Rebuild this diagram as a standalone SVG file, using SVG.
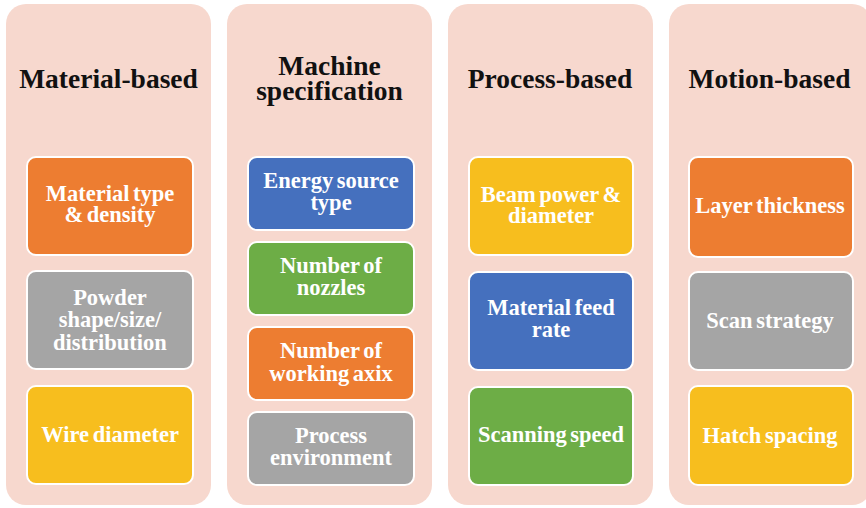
<svg xmlns="http://www.w3.org/2000/svg" width="866" height="508" viewBox="0 0 866 508">
  <style>
    .panel { fill: #F7D8CE; }
    .head { font-family: "Liberation Serif", "Times New Roman", serif; font-weight: bold; font-size: 27.5px; fill: #111111; text-anchor: middle; }
    .box { stroke: #FFFFFF; stroke-width: 2; }
    .lbl { font-family: "Liberation Serif", "Times New Roman", serif; font-weight: bold; font-size: 22.5px; fill: #FFFFFF; text-anchor: middle; word-spacing: -2px; }
    .orange { fill: #ED7D31; }
    .gray { fill: #A5A5A5; }
    .yellow { fill: #F7BE1E; }
    .blue { fill: #4570BE; }
    .green { fill: #6DAD46; }
  </style>
  <rect width="866" height="508" fill="#FFFFFF"/>

  <!-- Column 1: material-based -->
  <g id="col-material">
    <rect class="panel" x="6" y="4" width="205" height="501" rx="20"/>
    <text class="head" x="108.5" y="88">Material-based</text>
  </g>
  <g id="material-type">
    <rect class="box orange" x="27" y="157" width="166" height="98" rx="9"/>
    <text class="lbl" x="110" y="201">Material type</text>
    <text class="lbl" x="110" y="222">&amp; density</text>
  </g>
  <g id="powder">
    <rect class="box gray" x="27" y="271" width="166" height="98" rx="9"/>
    <text class="lbl" x="110" y="305">Powder</text>
    <text class="lbl" x="110" y="327">shape/size/</text>
    <text class="lbl" x="110" y="350">distribution</text>
  </g>
  <g id="wire">
    <rect class="box yellow" x="27" y="386" width="166" height="98" rx="9"/>
    <text class="lbl" x="110" y="442">Wire diameter</text>
  </g>

  <!-- Column 2: machine specification -->
  <g id="col-machine">
    <rect class="panel" x="227" y="4" width="205" height="501" rx="20"/>
    <text class="head" x="329.5" y="75">Machine</text>
    <text class="head" x="329.5" y="100">specification</text>
  </g>
  <g id="energy-source">
    <rect class="box blue" x="248" y="157" width="166" height="73" rx="9"/>
    <text class="lbl" x="331" y="188">Energy source</text>
    <text class="lbl" x="331" y="210">type</text>
  </g>
  <g id="nozzles">
    <rect class="box green" x="248" y="242" width="166" height="73" rx="9"/>
    <text class="lbl" x="331" y="273">Number of</text>
    <text class="lbl" x="331" y="295">nozzles</text>
  </g>
  <g id="working-axis">
    <rect class="box orange" x="248" y="327" width="166" height="73" rx="9"/>
    <text class="lbl" x="331" y="358">Number of</text>
    <text class="lbl" x="331" y="381">working axix</text>
  </g>
  <g id="environment">
    <rect class="box gray" x="248" y="412" width="166" height="73" rx="9"/>
    <text class="lbl" x="331" y="443">Process</text>
    <text class="lbl" x="331" y="465">environment</text>
  </g>

  <!-- Column 3: process-based -->
  <g id="col-process">
    <rect class="panel" x="448" y="4" width="205" height="501" rx="20"/>
    <text class="head" x="550" y="88">Process-based</text>
  </g>
  <g id="beam-power">
    <rect class="box yellow" x="469" y="157" width="164" height="98" rx="9"/>
    <text class="lbl" x="551" y="202">Beam power &amp;</text>
    <text class="lbl" x="551" y="223">diameter</text>
  </g>
  <g id="feed-rate">
    <rect class="box blue" x="469" y="272" width="164" height="98" rx="9"/>
    <text class="lbl" x="551" y="315">Material feed</text>
    <text class="lbl" x="551" y="337">rate</text>
  </g>
  <g id="scan-speed">
    <rect class="box green" x="469" y="387" width="164" height="98" rx="9"/>
    <text class="lbl" x="551" y="442">Scanning speed</text>
  </g>

  <!-- Column 4: motion-based (runs past the right edge) -->
  <g id="col-motion">
    <rect class="panel" x="669" y="4" width="203" height="501" rx="20"/>
    <text class="head" x="769.5" y="88">Motion-based</text>
  </g>
  <g id="layer-thickness">
    <rect class="box orange" x="689" y="157" width="164" height="100" rx="9"/>
    <text class="lbl" x="770" y="213">Layer thickness</text>
  </g>
  <g id="scan-strategy">
    <rect class="box gray" x="689" y="272" width="164" height="98" rx="9"/>
    <text class="lbl" x="770" y="328">Scan strategy</text>
  </g>
  <g id="hatch-spacing">
    <rect class="box yellow" x="689" y="386" width="164" height="99" rx="9"/>
    <text class="lbl" x="770" y="443">Hatch spacing</text>
  </g>

  <g id="connectors"/>
</svg>
